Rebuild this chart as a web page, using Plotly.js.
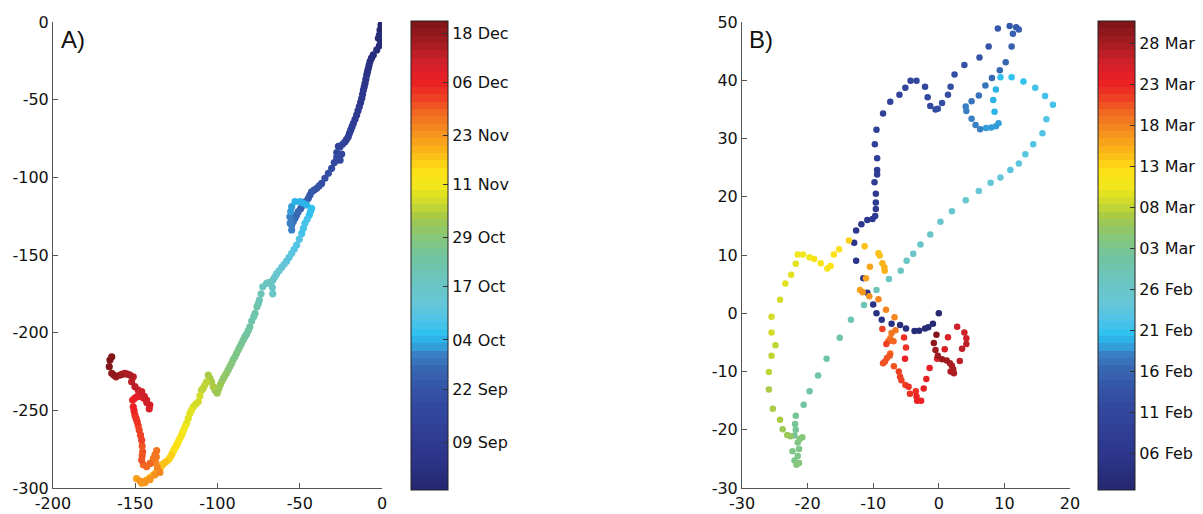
<!DOCTYPE html>
<html><head><meta charset="utf-8">
<script src="https://cdn.plot.ly/plotly-3.0.1.min.js"></script>
<style>html,body{margin:0;padding:0;background:#fff;}</style>
</head><body>
<div id="chart" style="width:1203px;height:514px;"></div>
<script>
// ---------- Panel A: track (km), colour = days since 1 Sep ----------
const a1x = [0,-0.6,-1.2,-1.6,-2.2,-0.8,-1.6,-3.2,-5.3,-6.4,-7.3,-7.8,-8.3,-8.8,-9.3,-9.8,-10.3,-10.8,-11.3,-11.8,-12.3,-13,-13.8,-14.6,-15.4,-16.4,-17.4,-18.2,-19,-19.8,-20.5,-21.5,-22.5,-24,-25.5,-26.5];
const a1y = [0,-1.9,-5.2,-8.4,-10.5,-12.7,-15.3,-18,-21.2,-23.3,-25.5,-27.7,-29.8,-32,-34.1,-36.8,-39.5,-41.7,-43.8,-46.5,-49.1,-51.8,-54.5,-57.2,-59.9,-62.6,-65.2,-67.4,-69.5,-71.7,-73.9,-75.5,-77.1,-78.7,-80.3,-80.0];
const a1t = [-3,-2.6,-2.2,-1.8,-1.4,-1,-0.6,-0.2,0.3,0.8,1.3,1.8,2.3,2.8,3.3,3.8,4.3,4.8,5.3,5.8,6.3,6.8,7.3,7.8,8.3,8.8,9.3,9.8,10.3,10.8,11.3,11.8,12.3,12.8,13.3,13.8];

const a2x = [-27.5,-27.1,-25.5,-24.5,-26,-27.5,-29,-30.6,-32.6,-34.7,-36.7,-38.2,-39.7,-41.3,-42.8,-43.8,-44.8,-46.4,-47.9,-49.4,-50.9,-51.9,-52.9,-53.9,-54.9,-54.9];
const a2y = [-84,-88.9,-89,-85,-86.5,-87,-90.5,-94.2,-97.4,-100.6,-103.9,-105.5,-107.1,-108.2,-109.3,-111.4,-113.5,-115.7,-117.8,-120,-122.1,-124.2,-126.4,-128.5,-130.7,-133.9];
const a2t = [14.3,14.8,15.2,15.6,16,16.4,17,17.6,18.2,18.8,19.4,20,20.6,21.2,21.8,22.4,23,23.6,24.2,24.8,25.4,26,26.6,27.2,27.8,28.6];

const a3x = [-55.8,-56,-55.5,-54.9,-52.9,-49.8,-47.8,-45.8,-42.8,-43.5];
const a3y = [-129.5,-125.4,-122,-118.9,-115.7,-115.7,-116.7,-117.8,-120,-122];
const a3t = [29.4,30.2,31,31.6,32.2,32.8,33.3,33.8,34.4,35];

const a4x = [-44.2,-45.5,-46.8,-47.8,-48.8,-50.3,-51.9,-53.4,-54.9,-56.5,-58,-59.5,-61,-62.5,-64,-65.1,-66.2,-66.6,-66.4,-67.5,-69,-70.2,-72.5,-73.5,-74.5];
const a4y = [-124.3,-127,-129.6,-132.8,-136.1,-139.8,-143.6,-146.3,-149,-151.5,-154,-156,-158,-160,-162,-164,-166,-171,-175,-168,-167.8,-168.3,-170.5,-175,-179];
const a4t = [35.5,36,36.5,37,37.5,38.1,38.7,39.3,39.9,40.5,41.1,41.7,42.3,42.9,43.5,44.1,44.7,45.3,45.8,46.3,46.8,47.3,47.9,48.5,49.1];

const a5x = [-75.2,-76,-77.2,-78,-79.2,-80.3,-81.3,-82.3,-83.3,-84.4,-85.4,-86.4,-87.4,-88.4,-89.4,-90.5,-91.4,-92.5,-93.5,-94.5,-95.5,-96.5,-97.5,-98.3,-99.1,-99.6,-100.2];
const a5y = [-181.2,-183.3,-187.6,-189.8,-192.5,-196.2,-198.6,-201,-202.6,-204.8,-207,-209.1,-211.2,-213.3,-215.5,-217.5,-219.8,-221.9,-224,-226,-227.8,-229.6,-231.6,-233.6,-235.5,-237,-239];
const a5t = [49.6,50.1,50.6,51.1,51.6,52.1,52.6,53.1,53.6,54.1,54.6,55.1,55.6,56.1,56.6,57.1,57.6,58.1,58.6,59.1,59.6,60.1,60.6,61,61.4,61.8,62.2];

const a6x = [-101.5,-102.6,-103.6,-104.6,-105.6,-106.6,-107.7,-108.7,-109.7,-110.7,-111.7,-113.2,-114.7,-115.8,-116.8,-117.8,-118.8,-119.7,-120.5,-121.2,-121.8,-122.7,-123.5,-124.2,-124.8,-125.7,-126.5,-127.3,-127.9,-128.9,-129.9,-131.5,-133,-134.5,-136,-137.5,-139.1,-141.1,-143.1,-144.6,-146.1];
const a6y = [-237,-234.8,-231.6,-229.4,-227.3,-231.6,-233.7,-235.9,-237,-240.7,-244.5,-246,-247.7,-249.8,-252,-255.2,-258.4,-260.4,-262.5,-264.2,-265.9,-267.7,-269.5,-271,-272.4,-274,-275.5,-277.2,-278.8,-280.4,-282,-283.3,-284.5,-286.5,-288.5,-290.1,-291.7,-293.3,-294.9,-296,-297];
const a6t = [62.6,63,63.4,63.8,64.2,64.6,65,65.4,65.8,66.2,66.6,67.1,67.6,68.1,68.6,69.1,69.6,70.1,70.6,71.1,71.6,72.1,72.6,73.1,73.6,74.1,74.6,75.1,75.6,76.1,76.6,77.1,77.6,78.1,78.6,79.1,79.6,80.1,80.6,81.1,81.6];

const a7x = [-149.2,-147,-144,-141,-138,-135,-136.5,-137.4,-137.2,-137,-138,-139,-141,-143.1,-145.1,-146.1,-145.8,-145.5,-145.8,-146.1,-146.8,-147.6,-148.2,-148.8,-149.5,-150.2,-150.7,-151.2,-151.6,-150.4,-149.2,-147.6,-146.1,-144.6,-143.1,-141.1,-141.5,-143,-144.5,-146.1,-148.2,-150.2,-152.2,-151.2,-153.2,-154.8,-156.3,-157.8,-159.3,-161.7,-163,-164.3,-165.8,-165.4,-164.3];
const a7y = [-294,-295.5,-296.5,-294.5,-291.5,-290,-287,-284,-280,-276,-278.5,-281,-284.2,-286.3,-285,-282,-279.3,-276.7,-273,-269.2,-266,-262.7,-260,-257.4,-255.2,-253.1,-250.4,-247.7,-243.4,-242.3,-241.3,-241,-241.3,-242.3,-243.4,-246.6,-249,-245,-241,-238,-237,-234.8,-231.6,-228.4,-227.3,-226.7,-226.2,-226.7,-227.3,-228.4,-227.3,-226.2,-221.9,-217.6,-215.5];
const a7t = [82,82.5,83,83.5,84,84.5,85,85.5,86,86.5,87,87.5,88,88.5,89,89.5,90,90.5,91,91.5,92,92.5,93,93.5,94,94.5,95,95.5,96,96.5,97,97.5,98,98.5,99,99.5,100,100.5,101,101.5,102,102.5,103,103.5,104,104.5,105,105.5,106,106.5,107.5,108.5,109.5,110.3,111];

const cbarATickVals = [8,21,33,46,58,71,83,96,108];
const cbarATickText = ["09 Sep","22 Sep","04 Oct","17 Oct","29 Oct","11 Nov","23 Nov","06 Dec","18 Dec"];
const cbarARange = [-3.7, 111];

// ---------- Panel B: positions, colour = days since 1 Feb ----------
const b1x = [0,-0.9,-1.6,-2.1,-3.0,-3.7,-5.0,-5.9,-7.2,-8.7,-9.5,-10.0,-10.9,-11.5,-12.6,-12.9,-12.6,-11.8,-10.9,-10.1,-9.7,-9.6,-9.6,-9.6,-9.8,-9.4,-9.4,-9.4,-9.75,-9.5];
const b1y = [0,-1.8,-2.4,-2.6,-3.0,-3.05,-2.6,-2.0,-1.8,-1.1,0,1.5,3.5,6.0,9.0,12.1,14.2,15.3,16.0,16.2,16.7,17.9,19.0,20.5,22.5,23.8,24.6,26.6,29.0,31.5];
const b1t = [1,1.25,1.5,1.75,2,2.25,2.5,2.75,3,3.25,3.5,3.75,4,4.25,4.5,4.75,5,5.25,5.5,5.75,6,6.25,6.5,6.75,7,7.25,7.5,7.75,8,8.25];

const b2x = [-8.5,-7.4,-6.0,-5.1,-4.3,-3.4,-2.1,-1.7,-1.3,-0.5,-0.15,0.5,1.4,1.8,2.4,3.9,6.2,7.6,9.0,10.8,11.8,12.2,11.3,11.1,10.2,9.3,8.1,7.1,6.1,5.0,4.1,4.2,5.0,5.6,6.3,7.2,8.0,8.7,9.1,8.5,8.3,8.7,9.4];
const b2y = [34.3,36.3,37.5,38.7,39.9,39.9,38.9,37.1,35.6,35.0,35.1,36.1,37.5,38.9,41.0,42.6,43.9,45.8,48.9,49.3,49.1,48.7,48.0,45.8,43.1,41.7,40.4,39.1,37.4,36.4,35.5,34.7,33.4,32.3,31.6,31.8,31.9,32.1,32.6,34.6,36.6,38.4,40.5];
const b2t = [8.5,8.8,9.1,9.4,9.7,10,10.3,10.6,10.9,11.1,11.3,11.5,11.7,11.9,12.1,12.4,12.7,13,13.3,13.6,13.8,14,14.2,14.5,14.8,15.1,15.4,15.7,16,16.3,16.6,16.8,17,17.2,17.4,17.6,17.8,18,18.2,18.5,18.8,19.1,19.4];

const b3x = [11.1,12.9,14.7,16.2,17.4,16.4,15.8,14.4,13.2,12.2,10.9,9.4,7.9,6.1,4.1,2.0,0.25,-1.3,-2.8,-3.9,-4.9,-5.8,-7.6,-9.5,-11.4,-13.4,-15.1,-17.1,-18.4,-19.7,-20.6,-21.8];
const b3y = [40.5,39.8,38.7,37.3,35.8,33.3,30.9,29.0,27.3,25.7,24.6,23.3,22.4,21.0,19.4,17.5,15.7,13.5,11.8,10.2,9.0,7.3,5.9,4.0,1.4,-1.1,-4.2,-7.8,-10.7,-13.4,-15.7,-17.6];
const b3t = [19.8,20.1,20.4,20.7,21,21.3,21.6,21.9,22.2,22.5,22.8,23.1,23.4,23.7,24,24.3,24.6,24.9,25.2,25.5,25.8,26.1,26.4,26.7,27,27.3,27.6,27.9,28.2,28.5,28.8,29.1];

const b4x = [-21.9,-21.8,-22.0,-21.5,-21.3,-22.3,-21.5,-22.0,-21.7,-21.3,-20.8,-21.2,-22.6];
const b4y = [-19.0,-20.0,-21.0,-22.2,-23.3,-23.7,-24.5,-25.3,-26.0,-25.7,-21.3,-21.6,-21.1];
const b4t = [29.4,29.6,29.8,30,30.2,30.4,30.6,30.8,31,31.2,31.4,31.6,31.8];

const b5x = [-23.1,-23.8,-24.2,-25.3,-25.9,-25.9,-25.5,-24.9,-25.5,-25.5,-24.2,-23.4,-22.5,-21.8,-21.5,-20.7,-19.7,-19.0,-18.0,-17.0,-16.5,-16.0,-15.2,-13.7];
const b5y = [-20.9,-19.9,-18.3,-16.4,-13.1,-10.1,-7.3,-5.5,-3.3,-0.6,2.3,5.1,6.6,8.5,10.1,10.1,9.6,9.3,8.6,7.7,8.1,10.1,11.0,12.5];
const b5t = [33,33.3,33.6,33.9,34.2,34.5,34.8,35.1,35.4,35.7,36,36.3,36.6,36.9,37.2,37.5,37.8,38.1,38.4,38.7,39,39.3,39.6,39.9];

const b6x = [-11.3,-9.2,-9.0,-8.6,-8.3,-8.25,-10.5,-11.1,-12.0,-11.6,-10.6,-9.2,-8.05,-6.75,-6.6,-7.2,-7.4,-7.7,-6.9,-7.4,-7.5,-7.9,-8.2,-8.5];
const b6y = [11.5,10.3,9.9,8.6,7.9,7.3,8.0,6.0,4.0,3.6,2.9,2.4,0.6,-0.7,-2.9,-3.4,-4.3,-4.8,-4.8,-6.9,-7.3,-7.7,-8.3,-8.6];
const b6t = [41,41.3,41.6,41.9,42.2,42.5,42.8,43.1,43.4,43.7,44,44.3,44.6,44.9,45.2,45.5,45.8,46.1,46.4,46.7,47,47.2,47.4,47.6];

const b7x = [-8.6,-8.0,-5.3,-5.0,-5.15,-6.85,-6.1,-5.9,-5.7,-5.1,-4.6,-4.4,-3.5,-3.4,-3.3,-2.7,-2.3,-1.9,-1.4,-0.25,0.9,1.4,2.8,3.9,4.2,4.2,3.55,3.2];
const b7y = [-2.7,-5.3,-4.15,-5.9,-7.8,-9.1,-10.0,-10.9,-11.5,-12.3,-12.6,-13.8,-13.4,-14.3,-15.0,-15.0,-12.9,-11.3,-9.4,-7.8,-6.2,-4.1,-2.3,-3.3,-4.3,-5.3,-6.1,-8.2];
const b7t = [48.6,48.3,49.3,49.6,49.9,47.8,48,48.2,48.4,48.6,48.8,49.1,49.4,49.7,50,50.3,50.6,50.9,51.2,51.5,51.8,52.1,52.4,52.7,53,53.3,53.6,53.9];

const b8x = [1.8,2.3,2.2,2.0,1.7,1.2,0.5,-0.15,-0.5,-0.76,-0.36];
const b8y = [-10.0,-10.3,-9.6,-9.0,-8.6,-8.1,-7.9,-7.3,-6.3,-5.1,-3.7];
const b8t = [54.2,54.4,54.6,54.8,55,55.2,55.4,55.6,55.9,56.3,57];

const cbarBTickVals = [5,10,15,20,25,30,35,40,45,50,55];
const cbarBTickText = ["06 Feb","11 Feb","16 Feb","21 Feb","26 Feb","03 Mar","08 Mar","13 Mar","18 Mar","23 Mar","28 Mar"];
const cbarBRange = [0.5, 57.7];

const axisTicksAx = [-200,-150,-100,-50,0], axisTicksAxText = ["-200","-150","-100","-50","0"];
const axisTicksAy = [-300,-250,-200,-150,-100,-50,0], axisTicksAyText = ["-300","-250","-200","-150","-100","-50","0"];
const axisTicksBx = [-30,-20,-10,0,10,20], axisTicksBxText = ["-30","-20","-10","0","10","20"];
const axisTicksBy = [-30,-20,-10,0,10,20,30,40,50], axisTicksByText = ["-30","-20","-10","0","10","20","30","40","50"];

// ---------- colour map (printed jet-like), stepped to 64 levels ----------
const anchors = [
 [0.00,'#25286f'],[0.06,'#2b3387'],[0.12,'#2f3d94'],[0.18,'#3349a0'],[0.22,'#3556a8'],
 [0.26,'#3868b3'],[0.29,'#3a80c4'],[0.31,'#2fa7e0'],[0.33,'#29c0ef'],[0.36,'#4fc3e8'],
 [0.40,'#66c6d6'],[0.45,'#6cc5be'],[0.50,'#72c49d'],[0.54,'#86c77a'],[0.58,'#a3c84b'],
 [0.62,'#d7de25'],[0.65,'#f2e81c'],[0.68,'#fde016'],[0.72,'#fbb817'],[0.76,'#f6921e'],
 [0.80,'#f26d21'],[0.84,'#ee3b24'],[0.87,'#ec1e24'],[0.91,'#d2202a'],[0.95,'#a71d22'],[1.00,'#7b1416']];
function hex2rgb(h){return [parseInt(h.slice(1,3),16),parseInt(h.slice(3,5),16),parseInt(h.slice(5,7),16)];}
function colAt(f){
  for(let i=0;i<anchors.length-1;i++){
    const [f0,c0]=anchors[i],[f1,c1]=anchors[i+1];
    if(f<=f1){const u=(f-f0)/(f1-f0);const a=hex2rgb(c0),b=hex2rgb(c1);
      return 'rgb('+a.map((v,k)=>Math.round(v+(b[k]-v)*u)).join(',')+')';}
  }
  return anchors[anchors.length-1][1];
}
const N=64, cscale=[];
for(let i=0;i<N;i++){const c=colAt((i+0.5)/N);cscale.push([i/N,c]);cscale.push([(i+1)/N,c]);}

const W=1203,H=514;
const font='DejaVu Sans';
const ax=(o)=>Object.assign({showline:true,linecolor:'#555',linewidth:1,ticks:'inside',ticklen:5,tickcolor:'#555',
  showgrid:false,zeroline:false,mirror:false,tickfont:{family:font,size:16,color:'#111'},fixedrange:true},o);

const Ax=[].concat(a1x,a2x,a3x,a4x,a5x,a6x,a7x), Ay=[].concat(a1y,a2y,a3y,a4y,a5y,a6y,a7y), At=[].concat(a1t,a2t,a3t,a4t,a5t,a6t,a7t);
const Bx=[].concat(b1x,b2x,b3x,b4x,b5x,b6x,b7x,b8x), By=[].concat(b1y,b2y,b3y,b4y,b5y,b6y,b7y,b8y), Bt=[].concat(b1t,b2t,b3t,b4t,b5t,b6t,b7t,b8t);

const cb=(x,vals,txt)=>({x:x/W,xanchor:'left',xpad:0,y:(H-21)/H,yanchor:'top',ypad:0,len:469/H,lenmode:'fraction',
  thickness:37,thicknessmode:'pixels',outlinewidth:1,outlinecolor:'#222',ticks:'inside',ticklen:5,tickcolor:'#333',
  tickvals:vals,ticktext:txt,tickfont:{family:font,size:16,color:'#111'}});

const traces=[
 {type:'scatter',mode:'markers',x:Ax,y:Ay,xaxis:'x',yaxis:'y',hoverinfo:'skip',
  marker:{size:7.2,color:At,colorscale:cscale,cmin:cbarARange[0],cmax:cbarARange[1],line:{width:0},
  colorbar:cb(411,cbarATickVals,cbarATickText)}},
 {type:'scatter',mode:'markers',x:Bx,y:By,xaxis:'x2',yaxis:'y2',hoverinfo:'skip',
  marker:{size:6.5,color:Bt,colorscale:cscale,cmin:cbarBRange[0],cmax:cbarBRange[1],line:{width:0},
  colorbar:cb(1098,cbarBTickVals,cbarBTickText)}}
];
const layout={width:W,height:H,margin:{l:0,r:0,t:0,b:0},paper_bgcolor:'#fff',plot_bgcolor:'#fff',showlegend:false,
 xaxis:ax({domain:[53/W,382/W],range:[-200,0],tickvals:axisTicksAx,ticktext:axisTicksAxText,anchor:'y',ticklabelstandoff:1}),
 yaxis:ax({domain:[(H-488)/H,(H-22)/H],range:[-300,0],tickvals:axisTicksAy,ticktext:axisTicksAyText,anchor:'x'}),
 xaxis2:ax({domain:[742/W,1070/W],range:[-30,20],tickvals:axisTicksBx,ticktext:axisTicksBxText,anchor:'y2',ticklabelstandoff:1}),
 yaxis2:ax({domain:[(H-488)/H,(H-22)/H],range:[-30,50],tickvals:axisTicksBy,ticktext:axisTicksByText,anchor:'x2'}),
 annotations:[
  {text:'A)',xref:'paper',yref:'paper',x:59/W,y:(H-24)/H,xanchor:'left',yanchor:'top',showarrow:false,font:{family:'Liberation Sans',size:24,color:'#111'}},
  {text:'B)',xref:'paper',yref:'paper',x:747/W,y:(H-24)/H,xanchor:'left',yanchor:'top',showarrow:false,font:{family:'Liberation Sans',size:24,color:'#111'}}
 ]};
Plotly.newPlot('chart',traces,layout,{displayModeBar:false,staticPlot:true});
</script>
</body></html>
